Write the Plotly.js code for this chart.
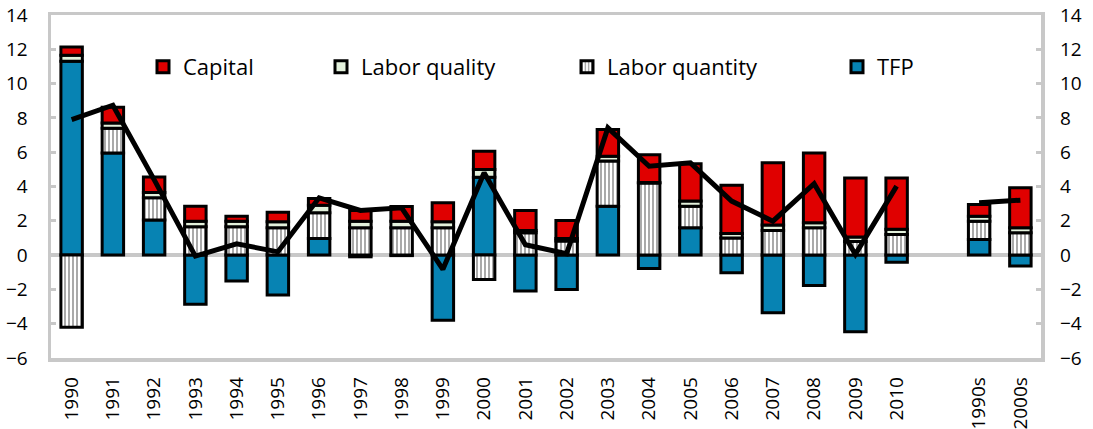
<!DOCTYPE html>
<html>
<head>
<meta charset="utf-8">
<script src="https://cdn.plot.ly/plotly-3.0.1.min.js"></script>
<style>html,body{margin:0;padding:0;background:#fff;}#chart{width:1093px;height:429px;}</style>
</head>
<body>
<div id="chart"></div>
<script>
// Categories (blank slot separates annual data from decade averages)
const categories = ['1990','1991','1992','1993','1994','1995','1996','1997','1998','1999','2000',
  '2001','2002','2003','2004','2005','2006','2007','2008','2009','2010','','1990s','2000s'];

const tfp = [11.3, 5.95, 2.05, -2.87, -1.51, -2.33, 0.97, -0.1, -0.03, -3.8, 4.54,
  -2.1, -2.0, 2.85, -0.78, 1.59, -1.03, -3.36, -1.77, -4.47, -0.41, null, 0.91, -0.64];
const laborQuantity = [-4.2, 1.45, 1.3, 1.65, 1.65, 1.6, 1.5, 1.6, 1.6, 1.6, -1.42,
  1.3, 0.82, 2.63, 4.2, 1.26, 1.0, 1.44, 1.6, 0.8, 1.2, null, 1.07, 1.3];
const laborQuality = [0.35, 0.3, 0.3, 0.33, 0.33, 0.34, 0.44, 0.38, 0.38, 0.34, 0.45,
  0.14, 0.15, 0.29, 0.03, 0.3, 0.26, 0.31, 0.28, 0.25, 0.3, null, 0.29, 0.29];
const capital = [0.49, 0.92, 0.91, 0.87, 0.29, 0.56, 0.39, 0.62, 0.85, 1.11, 1.07,
  1.16, 1.05, 1.55, 1.62, 2.17, 2.82, 3.63, 4.08, 3.45, 3.0, null, 0.68, 2.33];
const total = [7.9, 8.74, 4.4, -0.06, 0.66, 0.19, 3.34, 2.6, 2.76, -0.83, 4.8,
  0.6, 0.08, 7.42, 5.18, 5.38, 3.15, 1.98, 4.16, 0.04, 4.02, null, 3.05, 3.2];

const yTicks = [-6,-4,-2,0,2,4,6,8,10,12,14];

const xs = categories.map((c, i) => i);
const boundaries = categories.slice(0, -1).map((c, i) => i + 0.5);

const FONT = '"Open Sans", "Noto Sans", sans-serif';
const GRAY = '#c8c8c8';
function outline() { return {color: '#000000', width: 3}; }

const traces = [
  {type:'bar', name:'TFP', x: xs, y: tfp, legend:'legend4',
   marker:{color:'#0783b3', line: outline()}},
  {type:'bar', name:'Labor quantity', x: xs, y: laborQuantity, legend:'legend3',
   marker:{color:'#ffffff', line: outline(),
     pattern:{shape:'|', fgcolor:'#a0a0a0', bgcolor:'#ffffff', size:4, solidity:0.45}}},
  {type:'bar', name:'Labor quality', x: xs, y: laborQuality, legend:'legend2',
   marker:{color:'#e3f1dc', line: outline()}},
  {type:'bar', name:'Capital', x: xs, y: capital, legend:'legend',
   marker:{color:'#e00000', line: outline()}},
  {type:'scatter', mode:'lines', name:'Total', x: xs, y: total, yaxis:'y2',
   showlegend:false, connectgaps:false,
   line:{color:'#000', width:5}}
];

const plotL = 51, plotW = 1093 - 51 - 52, plotT = 15, plotH = 429 - 15 - 71;
function leg(px) {
  return {x: (px - plotL)/plotW, xref:'paper', y: (plotT + plotH - 67)/plotH, yref:'paper',
    xanchor:'left', yanchor:'middle', orientation:'h', bgcolor:'rgba(0,0,0,0)',
    font:{family: FONT, size: 22, color:'#000'}};
}

const layout = {
  width: 1093, height: 429,
  margin: {l: 51, r: 52, t: 15, b: 71, pad: 0},
  paper_bgcolor: '#fff', plot_bgcolor: '#fff',
  font: {family: FONT, size: 19, color: '#000'},
  barmode: 'relative', bargap: 0.48,
  showlegend: true,
  legend: leg(143), legend2: leg(321), legend3: leg(567), legend4: leg(837),
  xaxis: {
    range: [-0.5, categories.length - 0.5],
    tickvals: xs, ticktext: categories, tickangle: -90,
    ticks: '', showgrid: false, zeroline: false,
    showline: true, mirror: true, linecolor: GRAY, linewidth: 3.5,
    ticklabelstandoff: 8,
    tickfont: {family: FONT, size: 19, color: '#000'}
  },
  xaxis2: {
    overlaying: 'x', anchor: 'free', position: 0.3, side: 'bottom',
    range: [-0.5, categories.length - 0.5],
    tickvals: boundaries, ticks: 'inside', ticklen: 6, tickwidth: 3, tickcolor: GRAY,
    showticklabels: false, showline: false, showgrid: false, zeroline: false
  },
  yaxis: {
    range: [-6, 14], tickvals: yTicks,
    ticks: 'inside', ticklen: 5, tickwidth: 3, tickcolor: GRAY,
    showgrid: false, zeroline: true, zerolinecolor: GRAY, zerolinewidth: 3.5,
    showline: true, mirror: true, linecolor: GRAY, linewidth: 3.5,
    ticklabelstandoff: 16,
    tickfont: {family: FONT, size: 19, color: '#000'}
  },
  yaxis2: {
    overlaying: 'y', side: 'right', range: [-6, 14], tickvals: yTicks,
    ticks: 'inside', ticklen: 5, tickwidth: 3, tickcolor: GRAY,
    showgrid: false, zeroline: false, showline: false,
    ticklabelstandoff: 18,
    tickfont: {family: FONT, size: 19, color: '#000'}
  }
};

Plotly.newPlot('chart', traces, layout, {displayModeBar: false, staticPlot: true});
</script>
</body>
</html>
